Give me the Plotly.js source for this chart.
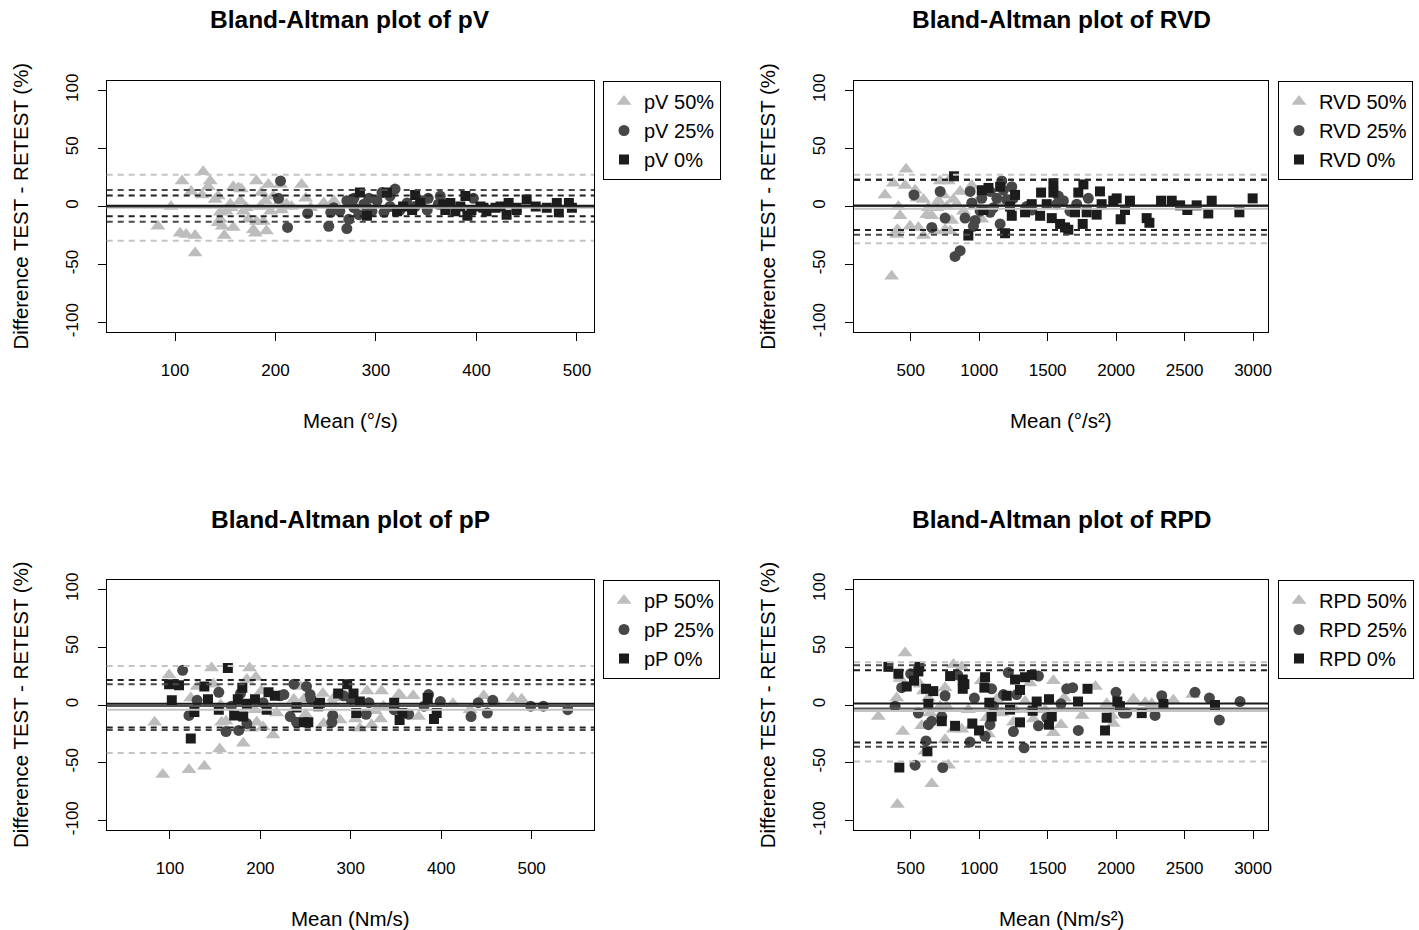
<!DOCTYPE html>
<html>
<head>
<meta charset="utf-8">
<script src="https://cdn.plot.ly/plotly-3.0.1.min.js"></script>
<style>html,body{margin:0;padding:0;background:#fff}#chart{width:1419px;height:930px}</style>
</head>
<body>
<div id="chart"></div>
<script>
// ---------------- DATA ----------------
const panelTitles = ["Bland-Altman plot of pV", "Bland-Altman plot of RVD", "Bland-Altman plot of pP", "Bland-Altman plot of RPD"];
const xAxisTitles = ["Mean (°/s)", "Mean (°/s²)", "Mean (Nm/s)", "Mean (Nm/s²)"];
const yAxisTitle = "Difference TEST - RETEST (%)";
const variableNames = ["pV", "RVD", "pP", "RPD"];
const groupLabels = ["50%", "25%", "0%"];
const yTicks = [-100, -50, 0, 50, 100];
const xTicksA = [100, 200, 300, 400, 500];
const xTicksB = [500, 1000, 1500, 2000, 2500, 3000];

// pV
const pV50_x = [83,96,107,105,111,120,120,116,128,135,133,127,140,143,145,143,147,149,151,156,158,163,166,158,165,168,173,178,181,181,180,185,186,190,191,193,195,198,205,205,206,211,216,226,230,235,248,258,188,171,145,155];
const pV50_y = [-17,0,22,-23,-24,-25,-40,13,30,22,17,10,6,9,-5,-14,-17,-25,-4,-1,17,16,15,-18,5,-4,-11,-20,22,-13,-23,0,12,5,-21,19,-4,9,19,5,-3,2,0,19,7,-1,3,5,-13,-1,-11,2];
const pV25_x = [205,203,212,232,253,255,264,271,273,271,278,283,288,293,296,301,306,308,314,319,314,324,331,339,346,352,351,364,362,397,291,278,258];
const pV25_y = [22,7,-18,-6,-17,-5,-4,-19,-11,5,7,-7,2,7,-4,5,12,-5,9,15,0,-3,3,0,5,7,-3,9,2,7,-1,-1,-1];
const pV0_x = [284,291,311,321,327,336,339,344,369,374,379,384,389,391,395,404,410,419,424,430,432,440,450,459,470,480,482,492,495,367,440,407];
const pV0_y = [12,-8,12,-4,0,-3,10,3,-3,3,-4,0,9,-8,-3,0,-4,-1,0,-7,3,-1,6,0,-1,3,-5,3,-1,2,-3,-1];
const pV_mean = [-1, 0, 0.6];
const pV_loaUp = [27.4, 14.3, 9.4];
const pV_loaLo = [-29.4, -13.1, -8.3];

// RVD
const RVD50_x = [466,312,373,459,410,422,403,398,361,495,532,544,556,593,593,629,654,678,702,715,751,775,788,800,812,837,861,885,946,970,1019,1165,690,763,617,739];
const RVD50_y = [32,10,20,18,0,-8,-20,-24,-60,-17,14,7,-18,6,-25,-1,-8,-21,5,22,-20,22,-21,-12,6,2,13,-4,18,3,-11,3,-1,0,-7,10];
const RVD25_x = [715,524,654,751,824,861,934,946,958,970,897,1019,1080,1104,1129,1153,1165,1177,1202,1238,1250,1347,1384,1578,1615,1663,1712,1797,1566,1080,1007];
const RVD25_y = [13,10,-18,-10,-43,-38,13,3,-17,-12,-10,7,13,-1,7,-15,22,14,6,17,7,0,-3,9,5,-4,2,7,2,-5,-4];
const RVD0_x = [816,921,1019,1068,1031,1189,1238,1262,1335,1384,1445,1452,1493,1530,1542,1542,1591,1627,1651,1700,1724,1761,1756,1785,1858,1882,1894,1979,2004,2033,2065,2101,2223,2243,2328,2406,2467,2520,2588,2673,2698,2900,2997,1225,1153];
const RVD0_y = [26,-25,14,16,-3,-23,-8,10,-5,2,-8,12,2,-10,20,12,-15,-18,-20,-5,12,19,-15,-5,-7,13,2,5,7,-11,-3,5,-10,-14,5,5,1,-3,1,-6,5,-5,7,0,17];
const RVD_mean = [-2, 0.5, 0.9];
const RVD_loaUp = [27.4, 23.1, 23.1];
const RVD_loaLo = [-31.7, -24.3, -20.3];

// pP
const pP50_x = [83,92,99,121,123,130,138,146,148,156,155,157,162,181,185,188,195,190,196,201,203,194,214,218,237,237,244,248,250,269,270,281,280,288,305,310,318,323,327,333,334,336,353,355,369,375,413,432,447,460,479,489];
const pP50_y = [-15,-60,26,-56,6,16,-53,32,18,0,-38,-15,-14,-33,22,32,24,-20,-15,12,-19,-4,-26,-7,5,-4,16,5,-8,10,-16,6,2,-13,-12,-20,12,-17,-5,-12,12,-1,9,8,8,-10,1,-4,8,2,6,5];
const pP25_x = [114,121,130,154,162,168,176,178,185,203,222,226,233,237,240,251,255,256,280,279,292,300,317,320,348,364,381,386,399,433,441,451,457,499,513,540];
const pP25_y = [30,-9,4,11,-23,-1,-22,10,-16,2,8,9,-10,18,-15,16,9,5,-9,-15,8,5,-8,2,-4,-8,-1,9,3,-10,2,-7,4,-1,-1,-4];
const pP0_x = [99,110,102,123,127,138,142,164,154,171,175,180,185,194,209,216,207,248,253,264,286,296,303,310,306,348,354,357,385,392,395,240,266,181];
const pP0_y = [18,17,4,-29,-6,16,5,32,-4,-9,5,15,1,5,11,8,-4,-15,-15,-1,10,18,10,3,-7,2,-13,-7,6,-12,-7,-2,2,-10];
const pP_mean = [-4.2, -0.8, 1.0];
const pP_loaUp = [33.8, 18, 21.5];
const pP_loaLo = [-41.5, -21.7, -19.4];

// RPD
const RPD50_x = [459,264,398,422,442,403,568,593,629,641,580,605,654,715,751,751,776,763,812,812,873,873,921,946,1014,1055,1068,1116,1128,1165,1250,1262,1335,1372,1396,1481,1518,1542,1542,1598,1621,1752,1849,1931,1967,1979,2126,2211,2260,2418,2559,1371];
const RPD50_y = [45,-10,6,23,-23,-86,18,12,6,-7,-18,-40,-68,-1,15,-30,-52,-1,35,-21,33,-21,-4,-18,21,-11,-25,-5,5,-7,-15,-4,3,19,-12,-4,3,21,-24,-17,6,-9,16,1,-9,-16,5,2,1,4,9,-4];
const RPD25_x = [386,434,500,532,556,612,629,653,734,727,751,843,933,965,1043,1079,1091,1177,1213,1250,1274,1328,1433,1433,1493,1639,1683,1724,1999,2053,2077,2284,2333,2576,2681,2754,2905,1104,1597];
const RPD25_y = [-1,15,27,-52,-7,-31,-17,-14,-54,-10,8,26,-32,6,-27,-17,14,9,28,-23,9,-37,25,-18,-11,14,15,-22,11,-7,-7,-9,8,11,6,-13,3,-1,1];
const RPD0_x = [337,410,417,471,524,556,563,612,665,629,622,727,788,824,880,892,880,950,999,1043,1038,1074,1091,1201,1262,1298,1298,1335,1384,1391,1420,1510,1510,1530,1722,1791,1919,1931,2009,2028,2187,2345,2722,1225];
const RPD0_y = [33,27,-54,16,21,29,33,14,12,1,-40,-14,25,-18,22,18,14,-16,-22,24,15,2,-10,8,22,13,-15,24,26,-5,3,5,-17,-10,3,14,-22,-11,3,-1,-7,1,0,-4];
const RPD_mean = [-5.1, -3, 1.2];
const RPD_loaUp = [36.9, 34.3, 30];
const RPD_loaLo = [-48.9, -36, -32.3];

const xData = [[pV50_x, pV25_x, pV0_x], [RVD50_x, RVD25_x, RVD0_x], [pP50_x, pP25_x, pP0_x], [RPD50_x, RPD25_x, RPD0_x]];
const yData = [[pV50_y, pV25_y, pV0_y], [RVD50_y, RVD25_y, RVD0_y], [pP50_y, pP25_y, pP0_y], [RPD50_y, RPD25_y, RPD0_y]];
const means = [pV_mean, RVD_mean, pP_mean, RPD_mean];
const loaUps = [pV_loaUp, RVD_loaUp, pP_loaUp, RPD_loaUp];
const loaLos = [pV_loaLo, RVD_loaLo, pP_loaLo, RPD_loaLo];
const xRanges = [[32, 517], [86, 3109], [30, 569], [86, 3109]];
const xTickSets = [xTicksA, xTicksB, xTicksA, xTicksB];

// ---------------- STYLE ----------------
const W = 1419, H = 930;
const FONT = "Liberation Sans, Arial, Helvetica, sans-serif";
const boxes = [ // pixel boxes [x0, x1, y0(top), y1(bottom)]
  [106.7, 594, 81, 332], [854, 1268, 81, 332],
  [106.7, 594, 580, 830], [854, 1268, 580, 830]
];
const legendPos = [[603, 81], [1278, 81], [603, 580], [1278, 580]];
const symbols = ["triangle-up", "circle", "square"];
const markerColors = ["#bdbdbd", "#474747", "#1c1c1c"];
const markerSizes = [13, 11, 10];
const solidColors = ["#c4c4c4", "#555555", "#1a1a1a"];
const dashColors = ["#c4c4c4", "#4a4a4a", "#222222"];

const traces = [];
const shapes = [];
const annotations = [];
const layout = {
  width: W, height: H,
  margin: {l: 0, r: 0, t: 0, b: 0},
  paper_bgcolor: "#fff", plot_bgcolor: "#fff",
  font: {family: FONT, color: "#000", size: 17},
  showlegend: true,
  hovermode: false
};

for (let p = 0; p < 4; p++) {
  const suf = p === 0 ? "" : String(p + 1);
  const xa = "x" + suf, ya = "y" + suf;
  const b = boxes[p];
  const leg = p === 0 ? "legend" : "legend" + (p + 1);
  for (let g = 0; g < 3; g++) {
    traces.push({
      type: "scatter", mode: "markers",
      x: xData[p][g], y: yData[p][g],
      xaxis: xa, yaxis: ya,
      name: variableNames[p] + " " + groupLabels[g],
      legend: leg,
      marker: {symbol: symbols[g], color: markerColors[g], size: markerSizes[g], line: {width: 0}},
      cliponaxis: true
    });
  }
  layout["xaxis" + suf] = {
    domain: [b[0] / W, b[1] / W], anchor: ya,
    range: xRanges[p], tickvals: xTickSets[p], ticktext: xTickSets[p].map(String),
    showgrid: false, zeroline: false, showline: true, mirror: true,
    linecolor: "#000", linewidth: 1, ticks: "outside", ticklen: 8, tickcolor: "#000",
    tickfont: {size: 17, family: FONT}, ticklabelstandoff: 15
  };
  layout["yaxis" + suf] = {
    domain: [1 - b[3] / H, 1 - b[2] / H], anchor: xa,
    range: [-108, 108], tickvals: yTicks, ticktext: yTicks.map(String),
    showgrid: false, zeroline: false, showline: true, mirror: true,
    linecolor: "#000", linewidth: 1, ticks: "outside", ticklen: 8, tickcolor: "#000",
    tickangle: -90, tickfont: {size: 17, family: FONT}, ticklabelstandoff: 13
  };
  layout[leg] = {
    x: legendPos[p][0] / W, y: 1 - legendPos[p][1] / H, xanchor: "left", yanchor: "top",
    xref: "paper", yref: "paper",
    bordercolor: "#000", borderwidth: 1, bgcolor: "#fff",
    font: {size: 20, family: FONT, color: "#000"},
    itemclick: false, itemdoubleclick: false
  };
  // horizontal reference lines
  for (let g = 0; g < 3; g++) {
    const common = {type: "line", xref: xa + " domain", yref: ya, x0: 0, x1: 1, layer: "above"};
    shapes.push(Object.assign({}, common, {y0: loaUps[p][g], y1: loaUps[p][g], line: {color: dashColors[g], width: 2, dash: "6px,5px"}}));
    shapes.push(Object.assign({}, common, {y0: loaLos[p][g], y1: loaLos[p][g], line: {color: dashColors[g], width: 2, dash: "6px,5px"}}));
    shapes.push(Object.assign({}, common, {y0: means[p][g], y1: means[p][g], line: {color: solidColors[g], width: 2}}));
  }
  const cx = (b[0] + b[1]) / 2 / W;
  const topTitleY = p < 2 ? 20 : 519;
  const xTitleY = p < 2 ? 420 : 918;
  annotations.push({text: "<b>" + panelTitles[p] + "</b>", xref: "paper", yref: "paper", x: cx, y: 1 - topTitleY / H,
    xanchor: "center", yanchor: "middle", showarrow: false, font: {size: 24.5, family: FONT, color: "#000"}});
  annotations.push({text: xAxisTitles[p], xref: "paper", yref: "paper", x: cx, y: 1 - xTitleY / H,
    xanchor: "center", yanchor: "middle", showarrow: false, font: {size: 20.5, family: FONT, color: "#000"}});
  annotations.push({text: yAxisTitle, xref: "paper", yref: "paper", x: (b[0] - 86.7) / W, y: 1 - ((b[2] + b[3]) / 2) / H,
    xanchor: "center", yanchor: "middle", textangle: -90, showarrow: false, font: {size: 20.5, family: FONT, color: "#000"}});
}
layout.shapes = shapes;
layout.annotations = annotations;

Plotly.newPlot("chart", traces, layout, {displayModeBar: false, staticPlot: true});
</script>
</body>
</html>
